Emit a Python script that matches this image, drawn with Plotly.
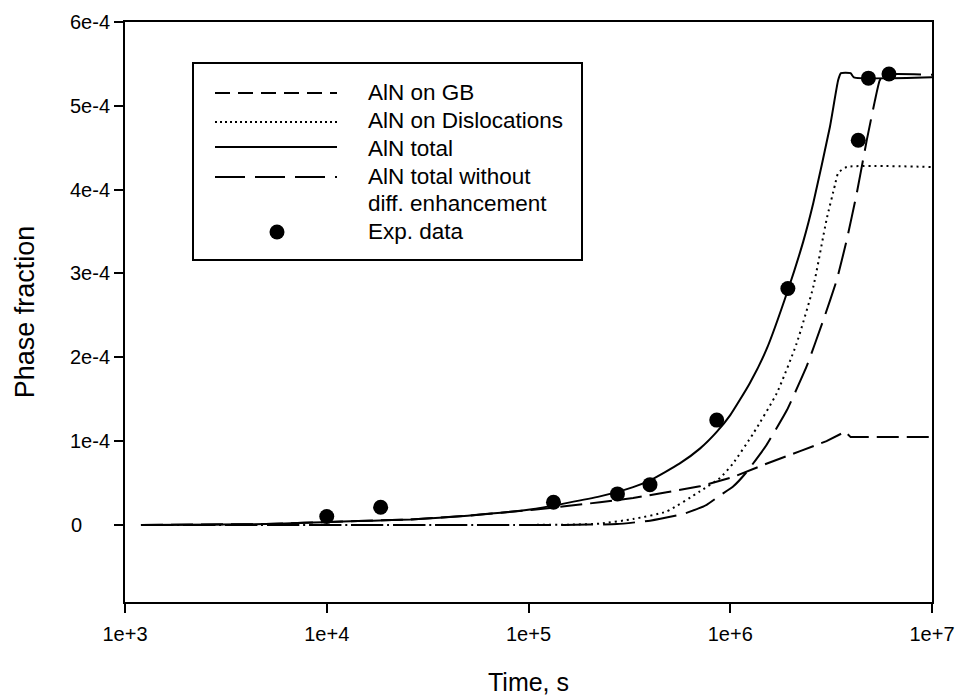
import plotly.graph_objects as go

# ---------------- data (phase fraction in units of 1e-4) ----------------
t_total = [1.2e3, 3e3, 5e3, 7.7e3, 1.2e4, 1.7e4, 2.6e4, 5e4, 1.06e5, 2.26e5, 3.3e5, 4.0e5,
           5.6e5, 7.07e5, 8.57e5, 1.0e6, 1.25e6, 1.51e6, 1.93e6, 2.3e6, 2.58e6,
           3.12e6, 3.43e6, 3.54e6, 3.95e6, 4.1e6, 1e7]
v_total = [0.0, 0.005, 0.01, 0.025, 0.04, 0.05, 0.065, 0.11, 0.19, 0.34, 0.45, 0.53,
           0.73, 0.91, 1.11, 1.31, 1.69, 2.09, 2.8, 3.38, 3.84,
           4.75, 5.31, 5.39, 5.39, 5.34, 5.34]

t_gb = [1.2e3, 3e3, 5e3, 7.7e3, 1.2e4, 1.7e4, 2.6e4, 5e4, 1.06e5, 2.26e5, 3.3e5, 4.84e5,
        7.07e5, 1.03e6, 1.51e6, 2.22e6, 3.0e6, 3.7e6, 3.95e6, 1e7]
v_gb = [0.0, 0.005, 0.01, 0.025, 0.04, 0.05, 0.065, 0.11, 0.18, 0.27, 0.32, 0.39,
        0.46, 0.57, 0.73, 0.88, 1.0, 1.11, 1.05, 1.05]

t_disl = [1.2e3, 1e5, 1.6e5, 2.26e5, 3.3e5, 4.84e5, 7.07e5, 8.9e5, 1.03e6, 1.3e6, 1.7e6,
          2.13e6, 2.58e6, 3.0e6, 3.3e6, 3.43e6, 3.78e6, 1e7]
v_disl = [0.0, 0.0, 0.003, 0.015, 0.07, 0.16, 0.4, 0.56, 0.73, 1.09, 1.57,
          2.16, 2.84, 3.64, 4.05, 4.2, 4.27, 4.27]

t_nodiff = [1.2e3, 1.5e5, 2.74e5, 4.0e5, 5.85e5, 7.64e5, 9.0e5, 1.03e6, 1.2e6, 1.51e6, 1.91e6,
            2.39e6, 2.89e6, 3.37e6, 3.78e6, 4.24e6, 4.75e6, 5.2e6, 5.5e6, 5.8e6, 1e7]
v_nodiff = [0.0, 0.0, 0.01, 0.05, 0.13, 0.24, 0.36, 0.455, 0.625, 0.95, 1.37,
            1.89, 2.44, 2.92, 3.4, 3.96, 4.59, 5.05, 5.3, 5.37, 5.37]

t_exp = [1.0e4, 1.85e4, 1.33e5, 2.76e5, 4.0e5, 8.57e5, 1.93e6, 4.31e6, 4.84e6, 6.12e6]
v_exp = [0.10, 0.21, 0.27, 0.37, 0.48, 1.25, 2.82, 4.59, 5.33, 5.38]

x_tickvals = [1e3, 1e4, 1e5, 1e6, 1e7]
x_ticktext = ["1e+3", "1e+4", "1e+5", "1e+6", "1e+7"]
y_tickvals = [0, 1, 2, 3, 4, 5, 6]
y_ticktext = ["0" + "\u00a0" * 5, "1e-4", "2e-4", "3e-4", "4e-4", "5e-4", "6e-4"]

legend_labels = ["AlN on GB", "AlN on Dislocations", "AlN total",
                 "AlN total without", "diff. enhancement", "Exp. data"]

# ---------------- figure ----------------
FONT = "Liberation Sans, Arial, sans-serif"
W, H = 958, 696
L, R, T, B = 125, 26, 22, 94
PW, PH = W - L - R, H - T - B


def px(x):
    return (x - L) / PW


def py(y):
    return (H - B - y) / PH


fig = go.Figure()
fig.add_trace(go.Scatter(x=t_gb, y=v_gb, mode="lines",
                         line=dict(color="black", width=2, dash="22px,8px"),
                         name=legend_labels[0], showlegend=False))
fig.add_trace(go.Scatter(x=t_disl, y=v_disl, mode="lines",
                         line=dict(color="black", width=2, dash="2px,4px",
                                   shape="spline", smoothing=0.5),
                         name=legend_labels[1], showlegend=False))
fig.add_trace(go.Scatter(x=t_nodiff, y=v_nodiff, mode="lines",
                         line=dict(color="black", width=2, dash="32px,10px",
                                   shape="spline", smoothing=0.4),
                         name="AlN total without diff. enhancement", showlegend=False))
fig.add_trace(go.Scatter(x=t_total, y=v_total, mode="lines",
                         line=dict(color="black", width=2, shape="spline", smoothing=0.5),
                         name=legend_labels[2], showlegend=False))
fig.add_trace(go.Scatter(x=t_exp, y=v_exp, mode="markers",
                         marker=dict(color="black", size=15),
                         name=legend_labels[5], showlegend=False))

# ---------------- custom legend ----------------
shapes = [dict(type="rect", xref="paper", yref="paper",
               x0=px(193), x1=px(582), y0=py(260), y1=py(63),
               line=dict(color="black", width=2), fillcolor="white", layer="below")]
sample_x0, sample_x1 = px(215), px(337)
for yy, dash in [(93, "15px,8px"), (122, "2px,3px"), (147, None), (177, "30px,10px")]:
    ln = dict(color="black", width=2)
    if dash:
        ln["dash"] = dash
    shapes.append(dict(type="line", xref="paper", yref="paper",
                       x0=sample_x0, x1=sample_x1, y0=py(yy), y1=py(yy), line=ln))
shapes.append(dict(type="circle", xref="paper", yref="paper",
                   xsizemode="pixel", ysizemode="pixel",
                   xanchor=px(277), yanchor=py(232),
                   x0=-7.5, x1=7.5, y0=-7.5, y1=7.5,
                   fillcolor="black", line=dict(color="black", width=0)))

annotations = []
for label, yy in zip(legend_labels, [93, 121, 148, 176, 203, 231]):
    annotations.append(dict(xref="paper", yref="paper", x=px(366), y=py(yy),
                            xanchor="left", yanchor="middle", showarrow=False,
                            text=label, font=dict(family=FONT, size=22.5, color="black")))

fig.update_layout(
    width=W, height=H,
    margin=dict(l=L, r=R, t=T, b=B, autoexpand=False),
    plot_bgcolor="white", paper_bgcolor="white",
    showlegend=False,
    shapes=shapes, annotations=annotations,
    font=dict(family=FONT, color="black"),
)
fig.update_xaxes(type="log", range=[3, 7], tickvals=x_tickvals, ticktext=x_ticktext,
                 ticks="outside", ticklen=9, tickwidth=2, tickcolor="black",
                 showline=True, linewidth=2, linecolor="black", mirror=True,
                 showgrid=False, zeroline=False, ticklabelstandoff=4, automargin=False,
                 tickfont=dict(family=FONT, size=20, color="black"),
                 title=dict(text="Time, s", font=dict(family=FONT, size=25, color="black"),
                            standoff=30))
fig.update_yaxes(range=[-0.92, 6], tickvals=y_tickvals, ticktext=y_ticktext,
                 ticks="outside", ticklen=9, tickwidth=2, tickcolor="black",
                 showline=True, linewidth=2, linecolor="black", mirror=True,
                 showgrid=False, zeroline=False, ticklabelstandoff=0, automargin=False,
                 tickfont=dict(family=FONT, size=20, color="black"),
                 title=dict(text="Phase fraction", font=dict(family=FONT, size=27, color="black"),
                            standoff=28))

fig.write_html("out.html")
